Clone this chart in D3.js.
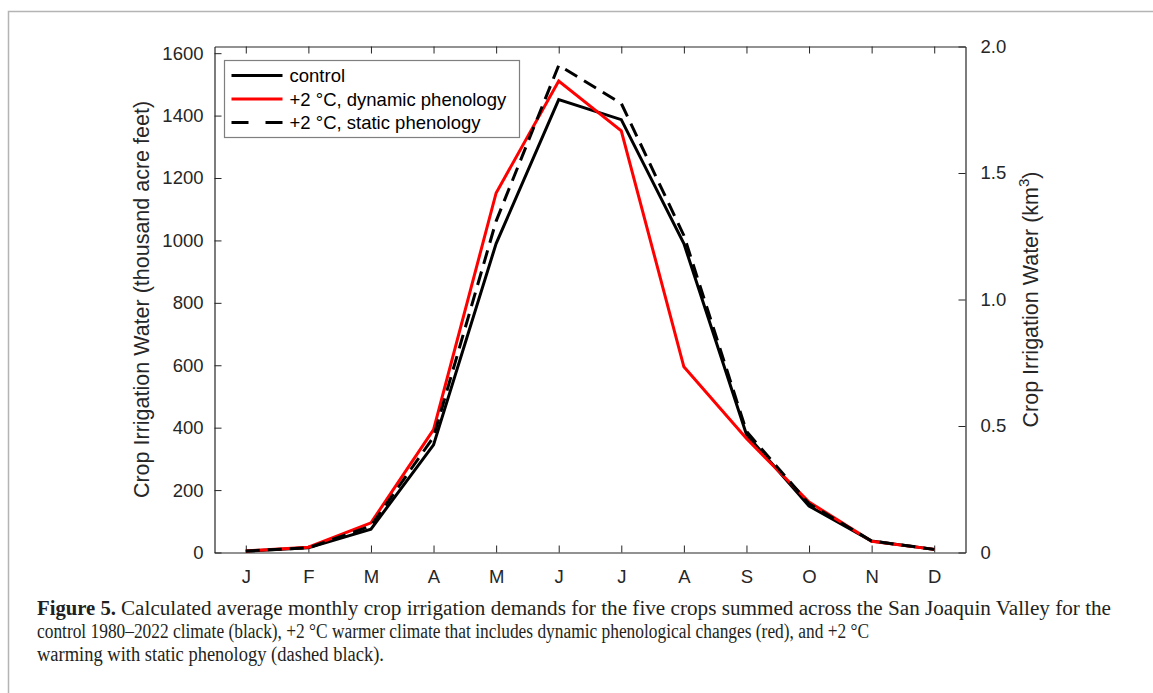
<!DOCTYPE html>
<html>
<head>
<meta charset="utf-8">
<script src="https://cdn.jsdelivr.net/npm/d3@7"></script>
<style>
    body { margin: 0; background: #fff; }
    svg { display: block; }
    .axis path, .axis line { stroke: #262626; }
    .axis text { fill: #262626; font-family: 'Liberation Sans', Arial, sans-serif; font-size: 18.5px; }
</style>
</head>
<body>
<svg id="Chart" width="1153" height="693"></svg>
<script>
var months = ['J', 'F', 'M', 'A', 'M', 'J', 'J', 'A', 'S', 'O', 'N', 'D'];
var control = [4, 15, 75, 345, 990, 1451, 1387, 990, 378, 149, 37, 10];
var dynamicPhen = [5, 17, 95, 394, 1152, 1511, 1351, 595, 365, 162, 36, 10];
var staticPhen = [5, 15, 85, 370, 1062, 1561, 1439, 1016, 388, 156, 37, 10];
var leftTicks = [0, 200, 400, 600, 800, 1000, 1200, 1400, 1600];
var rightTicks = [0, 0.5, 1.0, 1.5, 2.0];
var legendLabels = ['control', '+2 \u00b0C, dynamic phenology', '+2 \u00b0C, static phenology'];
var captionLines = [
    'Calculated average monthly crop irrigation demands for the five crops summed across the San Joaquin Valley for the',
    'control 1980\u20132022 climate (black), +2 \u00b0C warmer climate that includes dynamic phenological changes (red), and +2 \u00b0C',
    'warming with static phenology (dashed black).'
];

var svg = d3.select('#Chart');
var plotLeft = 214.5, plotRight = 965.5, plotTop = 46.5, plotBottom = 552.5;
// 2 km3 = 1621.4 thousand acre feet, so both axes share the same top
var kafPerKm3 = 810.7;

var x = d3.scaleLinear().domain([0.5, 12.5]).range([plotLeft, plotRight]);
var y = d3.scaleLinear().domain([0, 2 * kafPerKm3]).range([plotBottom, plotTop]);
var y2 = d3.scaleLinear().domain([0, 2]).range([plotBottom, plotTop]);

// outer figure frame
svg.append('path')
    .attr('d', 'M8.5,693 V11.5 H1153')
    .attr('fill', 'none')
    .attr('stroke', '#b4b4b4')
    .attr('stroke-width', 1.5);

var monthIdx = d3.range(1, 13);
var tickLen = 7;

svg.append('g')
    .attr('class', 'axis')
    .attr('transform', 'translate(0,' + plotBottom + ')')
    .call(d3.axisBottom(x).tickValues(monthIdx).tickFormat(function (d) { return months[d - 1]; })
        .tickSizeInner(-tickLen).tickSizeOuter(0).tickPadding(17));
svg.append('g')
    .attr('class', 'axis')
    .attr('transform', 'translate(0,' + plotTop + ')')
    .call(d3.axisTop(x).tickValues(monthIdx).tickFormat('')
        .tickSizeInner(-tickLen).tickSizeOuter(0));
svg.append('g')
    .attr('class', 'axis')
    .attr('transform', 'translate(' + plotLeft + ',0)')
    .call(d3.axisLeft(y).tickValues(leftTicks).tickFormat(d3.format('d'))
        .tickSizeInner(-tickLen).tickSizeOuter(0).tickPadding(11));
svg.append('g')
    .attr('class', 'axis')
    .attr('transform', 'translate(' + plotRight + ',0)')
    .call(d3.axisRight(y2).tickValues(rightTicks).tickFormat(function (d) { return d === 0 ? '0' : d3.format('.1f')(d); })
        .tickSizeInner(-tickLen).tickSizeOuter(0).tickPadding(15));
svg.selectAll('.axis .domain').attr('stroke-width', 1.2);

// axis titles
svg.append('text')
    .attr('transform', 'translate(149,' + (plotTop + plotBottom) / 2 + ') rotate(-90)')
    .attr('text-anchor', 'middle')
    .style('font-family', "'Liberation Sans', Arial, sans-serif")
    .style('font-size', '21.5px')
    .attr('fill', '#262626')
    .text('Crop Irrigation Water (thousand acre feet)');
var t2 = svg.append('text')
    .attr('transform', 'translate(1038,' + (plotTop + plotBottom) / 2 + ') rotate(-90)')
    .attr('text-anchor', 'middle')
    .style('font-family', "'Liberation Sans', Arial, sans-serif")
    .style('font-size', '21.5px')
    .attr('fill', '#262626');
t2.append('tspan').text('Crop Irrigation Water (km');
t2.append('tspan').attr('dy', -9).style('font-size', '15px').text('3');
t2.append('tspan').attr('dy', 9).text(')');

// series
var series = [
    { values: control, color: '#000', dash: null },
    { values: dynamicPhen, color: '#ff0000', dash: null },
    { values: staticPhen, color: '#000', dash: '14,8' }
];
var line = d3.line()
    .x(function (d, i) { return x(i + 1); })
    .y(function (d) { return y(d); });
series.forEach(function (s) {
    svg.append('path')
        .attr('d', line(s.values))
        .attr('fill', 'none')
        .attr('stroke', s.color)
        .attr('stroke-width', 3)
        .attr('stroke-linejoin', 'miter')
        .attr('stroke-dasharray', s.dash);
});

// legend
var lg = svg.append('g').attr('transform', 'translate(224.5,60.5)');
lg.append('rect')
    .attr('width', 295)
    .attr('height', 77)
    .attr('fill', '#fff')
    .attr('stroke', '#7f7f7f')
    .attr('stroke-width', 1.2);
series.forEach(function (s, i) {
    var ly = 15 + i * 23.5;
    lg.append('line')
        .attr('x1', 7).attr('x2', 58)
        .attr('y1', ly).attr('y2', ly)
        .attr('stroke', s.color)
        .attr('stroke-width', 3)
        .attr('stroke-dasharray', s.dash ? '17,17' : null);
    lg.append('text')
        .attr('x', 65)
        .attr('y', ly)
        .attr('dy', '0.36em')
        .style('font-family', "'Liberation Sans', Arial, sans-serif")
        .style('font-size', '18.5px')
        .attr('fill', '#000')
        .text(legendLabels[i]);
});

// caption: the journal uses a condensed serif, so squeeze each run to its measured width
var cap = svg.append('g')
    .style('font-family', "'Liberation Serif', 'DejaVu Serif', serif")
    .style('font-size', '20px')
    .attr('fill', '#231f20');
var capRuns = [
    [{ x: 37, w: 79, bold: true, s: 'Figure 5.' }, { x: 121, w: 990, s: captionLines[0] }],
    [{ x: 37, w: 832, s: captionLines[1] }],
    [{ x: 37, w: 347, s: captionLines[2] }]
];
capRuns.forEach(function (runs, i) {
    runs.forEach(function (r) {
        cap.append('text')
            .attr('x', r.x)
            .attr('y', 615 + i * 23)
            .attr('textLength', r.w)
            .attr('lengthAdjust', 'spacingAndGlyphs')
            .style('font-weight', r.bold ? 'bold' : null)
            .text(r.s);
    });
});
</script>
</body>
</html>
